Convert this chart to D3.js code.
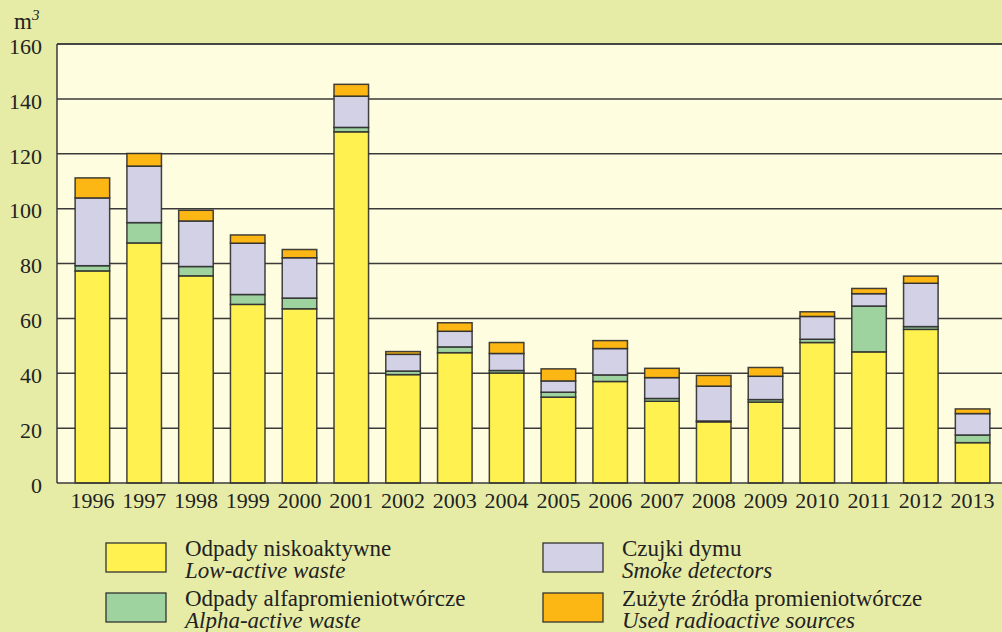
<!DOCTYPE html>
<html>
<head>
<meta charset="utf-8">
<script src="https://cdn.jsdelivr.net/npm/d3@7/dist/d3.min.js"></script>
<style>
  html, body { margin: 0; padding: 0; background: #e6eca6; }
  svg { display: block; }
  text { font-family: "Liberation Serif", "DejaVu Serif", serif; fill: #222; }
</style>
</head>
<body>
<svg id="chart" width="1002" height="632"></svg>
<script>
// Radioactive waste volumes by year, m³
const years = ["1996","1997","1998","1999","2000","2001","2002","2003","2004","2005","2006","2007","2008","2009","2010","2011","2012","2013"];
const lowActive   = [77.3, 87.5, 75.5, 65.1, 63.5, 128.0, 39.5, 47.5, 40.1, 31.3, 37.0, 29.8, 22.3, 29.5, 51.2, 47.8, 56.0, 14.7];
const alphaActive = [1.9, 7.4, 3.4, 3.6, 3.9, 1.6, 1.3, 2.1, 0.9, 1.8, 2.4, 1.0, 0.3, 0.9, 1.2, 16.7, 1.0, 2.8];
const smokeDet    = [24.7, 20.6, 16.6, 18.7, 14.7, 11.4, 6.1, 5.7, 6.2, 4.1, 9.6, 7.6, 12.7, 8.5, 8.3, 4.5, 15.8, 7.8];
const usedSources = [7.3, 4.6, 3.9, 3.0, 3.0, 4.3, 1.0, 3.1, 4.0, 4.4, 2.9, 3.4, 3.9, 3.2, 1.7, 1.9, 2.6, 1.7];
const yTicks = [0, 20, 40, 60, 80, 100, 120, 140, 160];

const seriesKeys = ["low", "alpha", "smoke", "sources"];
const seriesColors = { low: "#fff250", alpha: "#9ed29e", smoke: "#d3d1e6", sources: "#fcb714" };
const legendItems = [
  { key: "low",     pl: "Odpady niskoaktywne",          en: "Low-active waste" },
  { key: "alpha",   pl: "Odpady alfapromieniotwórcze",  en: "Alpha-active waste" },
  { key: "smoke",   pl: "Czujki dymu",                  en: "Smoke detectors" },
  { key: "sources", pl: "Zużyte źródła promieniotwórcze", en: "Used radioactive sources" }
];

const rows = years.map((yr, i) => ({
  year: yr, low: lowActive[i], alpha: alphaActive[i], smoke: smokeDet[i], sources: usedSources[i]
}));

const svg = d3.select("#chart");
const plotLeft = 57, plotTop = 44, plotBottom = 483, plotRight = 1002;

const x = d3.scaleBand().domain(years)
  .range([plotLeft, 1008]).paddingInner(0.333).paddingOuter(0.35);
const y = d3.scaleLinear().domain([0, 160]).range([plotBottom, plotTop]);

// plot background
svg.append("rect").attr("x", plotLeft).attr("y", plotTop)
  .attr("width", plotRight - plotLeft).attr("height", plotBottom - plotTop)
  .attr("fill", "#fffde0");

// horizontal gridlines
svg.append("g").selectAll("line").data(yTicks.filter(d => d > 0)).join("line")
  .attr("x1", plotLeft).attr("x2", plotRight)
  .attr("y1", d => y(d)).attr("y2", d => y(d))
  .attr("stroke", "#3a3a3a").attr("stroke-width", 1.5);

// stacked bars
const stack = d3.stack().keys(seriesKeys)(rows);
svg.append("g").selectAll("g").data(stack).join("g")
  .attr("fill", s => seriesColors[s.key])
  .selectAll("rect").data(s => s).join("rect")
  .attr("x", d => x(d.data.year))
  .attr("width", x.bandwidth())
  .attr("y", d => y(d[1]))
  .attr("height", d => y(d[0]) - y(d[1]))
  .attr("stroke", "#2e2e2e").attr("stroke-width", 1.5)
  .attr("stroke-opacity", 0.9);

// axes frame
svg.append("line").attr("x1", plotLeft).attr("x2", plotLeft).attr("y1", plotTop).attr("y2", plotBottom)
  .attr("stroke", "#3a3a3a").attr("stroke-width", 1.5);
svg.append("line").attr("x1", plotLeft).attr("x2", plotRight).attr("y1", plotTop).attr("y2", plotTop)
  .attr("stroke", "#3a3a3a").attr("stroke-width", 1.5);
svg.append("line").attr("x1", plotLeft).attr("x2", plotRight).attr("y1", plotBottom).attr("y2", plotBottom)
  .attr("stroke", "#3a3a3a").attr("stroke-width", 1.5);

// y tick labels
const yAxis = d3.axisLeft(y).tickValues(yTicks).tickSize(0).tickPadding(15);
const ya = svg.append("g").attr("transform", `translate(${plotLeft},0)`).call(yAxis);
ya.select(".domain").remove();
ya.selectAll("text").attr("font-size", 22).attr("fill", "#222").attr("dy", "0.42em")
  .attr("font-family", "Liberation Serif, serif");

// x tick labels
const xAxis = d3.axisBottom(x).tickSize(0).tickPadding(9);
const xa = svg.append("g").attr("transform", `translate(0,${plotBottom})`).call(xAxis);
xa.select(".domain").remove();
xa.selectAll("text").attr("font-size", 22).attr("fill", "#222")
  .attr("font-family", "Liberation Serif, serif");

// unit label
const unit = svg.append("text").attr("x", 14).attr("y", 29).attr("font-size", 23);
unit.append("tspan").text("m");
unit.append("tspan").attr("dy", -9).attr("font-size", 15).attr("font-style", "italic").text("3");

// legend
const legend = svg.append("g");
const legPos = [[106, 543], [106, 593], [543, 543], [543, 593]];
legendItems.forEach((it, i) => {
  const [lx, ly] = legPos[i];
  legend.append("rect").attr("x", lx).attr("y", ly).attr("width", 60).attr("height", 29)
    .attr("fill", seriesColors[it.key]).attr("stroke", "#333").attr("stroke-width", 1.3);
  legend.append("text").attr("x", lx + 79).attr("y", ly + 13).attr("font-size", 23).text(it.pl);
  legend.append("text").attr("x", lx + 79).attr("y", ly + 35).attr("font-size", 23)
    .attr("font-style", "italic").text(it.en);
});
</script>
</body>
</html>
